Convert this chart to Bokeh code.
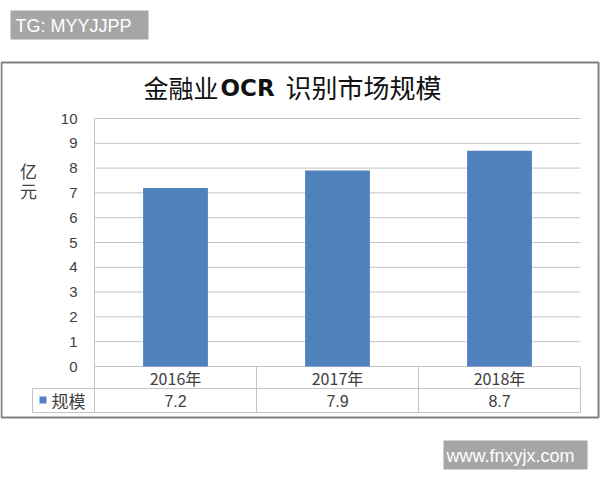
from bokeh.plotting import figure
from bokeh.models import Range1d
from bokeh.core.properties import value
from bokeh.embed import file_html
from bokeh.resources import INLINE

# --- data -------------------------------------------------------------
years = ["2016年", "2017年", "2018年"]
market_size = [7.2, 7.9, 8.7]          # 亿元
y_ticks = list(range(0, 11))
series_name = "规模"
unit_label = "亿\n元"
title_parts = ["金融业", "OCR", "识别市场规模"]
watermarks = ["TG: MYYJJPP", "www.fnxyjx.com"]

# --- canvas layout (pixels, origin top-left) --------------------------
W, H = 600, 480
L, R, T, B = 94, 580, 118, 366           # plot area
cat_w = (R - L) / len(years)
unit_h = (B - T) / y_ticks[-1]


def dx(px):
    return (px - L) / cat_w


def dy(py):
    return (B - py) / unit_h


CJK = value("Noto Sans CJK SC")
LAT = value("Liberation Sans")
BAR = "#4f81bd"
GRID = "#c4c4c4"
TXT = "#404040"

p = figure(width=W, height=H, x_range=Range1d(dx(0), dx(W)),
           y_range=Range1d(dy(H), dy(0)), x_axis_type=None, y_axis_type=None,
           toolbar_location=None, output_backend="svg", min_border=0)
p.grid.visible = False
p.outline_line_color = None
p.background_fill_color = "white"
p.border_fill_color = "white"

# outer chart border
p.quad(left=dx(1), right=dx(598), top=dy(62), bottom=dy(417),
       fill_color=None, line_color="#808080", line_width=2)

# title
p.text(x=[dx(143)], y=[dy(86)], text=[title_parts[0]], text_font=CJK,
       text_font_size="25px", text_color="#111111",
       text_align="left", text_baseline="middle")
p.text(x=[dx(220)], y=[dy(87)], text=[title_parts[1]], text_font=value("DejaVu Sans"),
       text_font_style="bold", text_font_size="23px", text_color="#111111",
       text_align="left", text_baseline="middle")
p.text(x=[dx(285)], y=[dy(86)], text=[title_parts[2]], text_font=CJK,
       text_font_size="26px", text_color="#111111",
       text_align="left", text_baseline="middle")

# horizontal gridlines and value axis line
p.segment(x0=[0] * len(y_ticks), x1=[len(years)] * len(y_ticks),
          y0=y_ticks, y1=y_ticks, line_color=GRID, line_width=1)
p.segment(x0=[0], x1=[0], y0=[0], y1=[y_ticks[-1]], line_color=GRID, line_width=1)

# tick labels
p.text(x=[dx(77)] * len(y_ticks), y=y_ticks, text=[str(t) for t in y_ticks],
       text_font=LAT, text_font_size="15px", text_color=TXT,
       text_align="right", text_baseline="middle")

# unit label, one character per line
p.text(x=[dx(28)], y=[dy(180)], text=[unit_label], text_font=CJK,
       text_font_size="17px", text_color=TXT, text_line_height=0.8,
       text_align="center", text_baseline="middle")

# bars
centers = [i + 0.5 for i in range(len(years))]
p.vbar(x=centers, top=market_size, bottom=0, width=0.4,
       fill_color=BAR, line_color=None)

# data table below the plot
row1_bottom, row2_bottom = dy(388), dy(412)
p.segment(x0=[dx(32), dx(32)], x1=[len(years), len(years)],
          y0=[row1_bottom, row2_bottom], y1=[row1_bottom, row2_bottom],
          line_color=GRID, line_width=1)
bounds = list(range(len(years) + 1))
p.segment(x0=bounds, x1=bounds, y0=[0] * len(bounds), y1=[row2_bottom] * len(bounds),
          line_color=GRID, line_width=1)
p.segment(x0=[dx(32)], x1=[dx(32)], y0=[row1_bottom], y1=[row2_bottom],
          line_color=GRID, line_width=1)

p.text(x=centers, y=[dy(377)] * len(years), text=years, text_font=CJK,
       text_font_size="16px", text_color=TXT,
       text_align="center", text_baseline="middle")
p.text(x=centers, y=[dy(400)] * len(years), text=[f"{v:.1f}" for v in market_size],
       text_font=LAT, text_font_size="16px", text_color=TXT,
       text_align="center", text_baseline="middle")

# legend key in the table
p.quad(left=dx(39), right=dx(46), top=dy(396), bottom=dy(403),
       fill_color=BAR, line_color=None)
p.text(x=[dx(51)], y=[dy(400)], text=[series_name], text_font=CJK,
       text_font_size="17px", text_color=TXT,
       text_align="left", text_baseline="middle")

# watermark badges
p.quad(left=[dx(10), dx(443)], right=[dx(148), dx(587)],
       top=[dy(10), dy(440)], bottom=[dy(39), dy(469)],
       fill_color="#a6a6a6", line_color=None)
p.text(x=[dx(15), dx(446)], y=[dy(25), dy(455)], text=watermarks,
       text_font=LAT, text_font_size="18px", text_color="white",
       text_align="left", text_baseline="middle")

open("out.html", "w").write(file_html(p, INLINE))
